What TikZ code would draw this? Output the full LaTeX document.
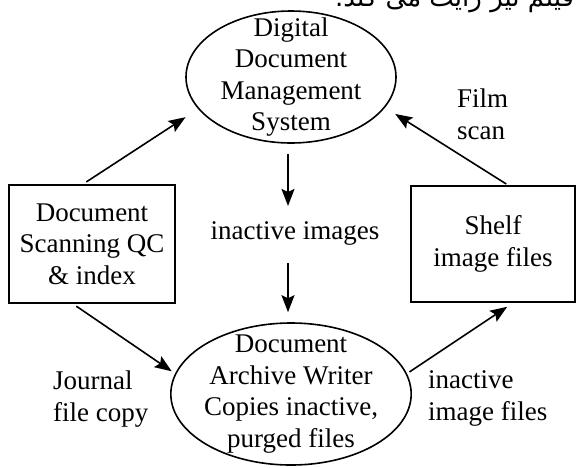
\documentclass[tikz,border=0pt]{standalone}
\usepackage{fontspec}
\setmainfont{Liberation Serif}
\newfontfamily\farsifont[Script=Arabic]{DejaVu Sans}
\TeXXeTstate=1
\usetikzlibrary{shapes.geometric}
\usetikzlibrary{arrows.meta}

\begin{document}
\begin{tikzpicture}[x=1pt, y=-1pt, font=\fontsize{27}{31.5}\selectfont,
  oval/.style={draw, line width=1.6pt, ellipse, inner xsep=-2pt, inner ysep=-14pt, align=center},
  box/.style={draw, line width=1.8pt, rectangle, inner sep=0pt, align=center},
  lbl/.style={inner sep=0pt, align=left},
  arr/.style={line width=1.6pt, -{Stealth[length=17pt,width=13pt,inset=3pt]}}]
\useasboundingbox (0,0) rectangle (577,467);
\clip (0,0) rectangle (577,467);
\node[anchor=base west, inner sep=0pt, font=\farsifont\fontsize{26}{30}\selectfont] (caption) at (335,6) {\beginR فیلم نیز رایت می کند.\endR};
\node[oval, minimum width=210pt, minimum height=132pt] (dms) at (291,77) {Digital\\Document\\Management\\System};
\node[oval, minimum width=240pt, minimum height=142pt] (writer) at (291,394) {Document\\Archive Writer\\Copies inactive,\\purged files};
\node[box, minimum width=166pt, minimum height=118pt] (scanqc) at (92,244) {Document\\Scanning QC\\\& index};
\node[box, minimum width=164pt, minimum height=116pt] (shelf) at (493,244) {Shelf\\image files};
\node[inner sep=0pt] (inact) at (295,233) {inactive images};
\node[lbl, anchor=north west] (journal) at (53,370.6) {Journal\\file copy};
\node[lbl, anchor=north west] (inactfiles) at (428,370.6) {inactive\\image files};
\node[lbl, anchor=north west] (filmscan) at (457,88.6) {Film\\scan};
\draw[arr, shorten <=4pt, shorten >=15pt] ([xshift=-9pt]scanqc.north) -- (dms.199);
\draw[arr, shorten <=10pt, shorten >=15pt] ([xshift=-3pt]dms.south) -- ([xshift=-7pt]inact.north);
\draw[arr, shorten <=18pt, shorten >=10pt] ([xshift=-7pt]inact.south) -- ([xshift=-3pt]writer.north);
\draw[arr, shorten <=4pt, shorten >=4pt] ([xshift=-19pt]scanqc.south) -- (writer.170);
\draw[arr, shorten <=3pt, shorten >=7pt] (writer.10) -- ([xshift=20pt]shelf.south);
\draw[arr, shorten <=2pt, shorten >=12pt] ([xshift=15pt]shelf.north) -- (dms.342);
\end{tikzpicture}
\end{document}
